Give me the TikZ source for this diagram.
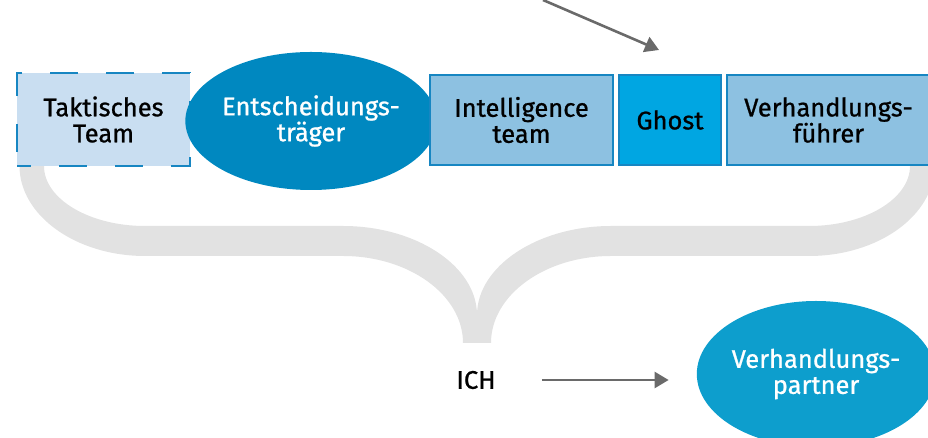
\documentclass[tikz,border=0pt]{standalone}
\usepackage{fontspec}
\setmainfont{Fira Sans}[FakeBold=0.9]
\usetikzlibrary{arrows.meta, shapes.geometric}

\definecolor{taktfill}{HTML}{C9DEF1}
\definecolor{boxline}{HTML}{1786C2}
\definecolor{teamfill}{HTML}{8DC1E1}
\definecolor{ghostfill}{HTML}{00A6E2}
\definecolor{bossfill}{HTML}{0088C0}
\definecolor{partnerfill}{HTML}{0D9ECD}
\definecolor{bracegray}{HTML}{E2E2E2}
\definecolor{arrowgray}{HTML}{6A6A6A}

\tikzset{
  label font/.style={font=\fontsize{25.5}{26}\selectfont},
  rolebox/.style={label font, draw=boxline, line width=2pt, fill=teamfill,
    align=center, inner sep=0pt, minimum height=90pt},
  roleoval/.style={label font, ellipse, fill=#1, text=white, align=center, inner sep=0pt},
  pointer/.style={draw=arrowgray, line width=2.6pt, -{Triangle[length=14pt,width=16pt]}}
}

\begin{document}
\begin{tikzpicture}[x=1pt, y=1pt]
\clip (0,0) rectangle (928,438);

% grey brace under the row
\fill[bracegray] (19.5,278) -- (19.5,272) .. controls (19.5,222.5) and (76,182) .. (145,182)
  -- (343,182) .. controls (409,182) and (463,143) .. (463,95) -- (491,95)
  .. controls (491,143) and (545,182) .. (611,182) -- (809,182)
  .. controls (878,182) and (934.5,222.5) .. (934.5,272) -- (934.5,278) -- (910,278) -- (910,272)
  .. controls (910,239) and (864.5,212) .. (809,212) -- (611,212)
  .. controls (538,212) and (477,172) .. (477,123)
  .. controls (477,172) and (416,212) .. (343,212) -- (145,212)
  .. controls (89.5,212) and (44,239) .. (44,272) -- (44,278) -- cycle;

% top row
\node[rolebox, fill=taktfill, dash pattern=on 28pt off 28pt, dash phase=14pt,
  minimum width=173pt, minimum height=93pt] (taktik) at (103.5,318.5) {Taktisches\\Team};
\node[roleoval=bossfill, minimum width=238pt, minimum height=138pt] (boss) at (311,317) {Entscheidungs-\\träger};
\node[rolebox, minimum width=183pt] (intel) at (521.5,318) {Intelligence\\team};
\node[rolebox, fill=ghostfill, minimum width=102pt] (ghost) at (670,318) {Ghost};
\node[rolebox, minimum width=203pt] (verh) at (828.5,318) {Verhandlungs-\\führer};

\coordinate (pointfrom) at (543,438);
\coordinate (pointto) at (659,388);
\draw[pointer] (pointfrom) -- (pointto);

% bottom row
\node[label font, inner sep=0pt] (ich) at (476,58) {ICH};
\node[roleoval=partnerfill, minimum width=238pt, minimum height=146pt] (partner) at (816,64) {Verhandlungs-\\partner};
\draw[pointer, shorten <=46pt, shorten >=28pt] (ich.east) -- (ich.east -| partner.west);

\end{tikzpicture}
\end{document}
